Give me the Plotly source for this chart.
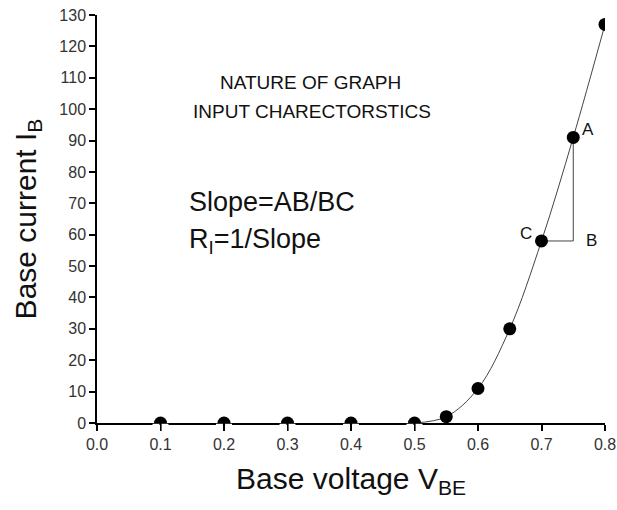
import plotly.graph_objects as go

# Data
vbe = [0.1, 0.2, 0.3, 0.4, 0.5, 0.55, 0.6, 0.65, 0.7, 0.75, 0.8]
ib = [0, 0, 0, 0, 0, 2, 11, 30, 58, 91, 127]
# fitted curve drawn through the conducting region
curve_v = [0.5, 0.55, 0.6, 0.65, 0.7, 0.75, 0.8]
curve_i = [0, 2, 11, 30, 58, 91, 127]
# slope triangle vertices: A, B, C
tri_v = [0.75, 0.75, 0.7]
tri_i = [91, 58, 58]
x_ticks = [0.0, 0.1, 0.2, 0.3, 0.4, 0.5, 0.6, 0.7, 0.8]
y_ticks = list(range(0, 131, 10))

FONT = "Liberation Sans, Arial, sans-serif"

fig = go.Figure()
fig.add_trace(go.Scatter(x=curve_v, y=curve_i, mode="lines",
                         line=dict(color="#444", width=1, shape="spline", smoothing=1.0),
                         hoverinfo="skip", showlegend=False, cliponaxis=True))
fig.add_trace(go.Scatter(x=tri_v, y=tri_i, mode="lines",
                         line=dict(color="#444", width=1),
                         hoverinfo="skip", showlegend=False, cliponaxis=True))
fig.add_trace(go.Scatter(x=vbe, y=ib, mode="markers",
                         marker=dict(color="black", size=13),
                         showlegend=False, cliponaxis=True))

# the reference clips markers at the x axis: mask the part of the
# zero-valued markers that falls below the axis line (ticks stay visible)
PLOT_H = 408.0
PX_X = 0.8 / 508.0
for v, i in zip(vbe, ib):
    if i == 0:
        for sgn in (-1, 1):
            xa = v + sgn * 1.1 * PX_X
            xb = v + sgn * 8.0 * PX_X
            fig.add_shape(type="rect", xref="x", yref="paper",
                          x0=min(xa, xb), x1=max(xa, xb),
                          y0=-8.0 / PLOT_H, y1=-0.8 / PLOT_H,
                          fillcolor="white", line=dict(width=0), layer="above")

ann = [
    dict(x=0.336, y=108.4, text="NATURE OF GRAPH", size=19, xanchor="center"),
    dict(x=0.339, y=99.4, text="INPUT CHARECTORSTICS", size=19, xanchor="center"),
    dict(x=0.142, y=70.5, text="Slope=AB/BC", size=27, xanchor="left"),
    dict(x=0.142, y=58.0, text="R<sub>I</sub>=1/Slope", size=27, xanchor="left"),
    dict(x=tri_v[0] + 0.023, y=tri_i[0] + 2.5, text="A", size=17, xanchor="center"),
    dict(x=tri_v[1] + 0.029, y=tri_i[1] + 0.3, text="B", size=17, xanchor="center"),
    dict(x=tri_v[2] - 0.024, y=tri_i[2] + 2.5, text="C", size=17, xanchor="center"),
]
for a in ann:
    fig.add_annotation(x=a["x"], y=a["y"], text=a["text"], xref="x", yref="y",
                       showarrow=False, xanchor=a["xanchor"], yanchor="middle",
                       font=dict(family=FONT, size=a["size"], color="#111"))

axis_common = dict(showline=True, linecolor="black", linewidth=1.5,
                   ticks="outside", ticklen=6, tickwidth=1.5, tickcolor="black",
                   showgrid=False, zeroline=False, mirror=False, automargin=False,
                   tickfont=dict(family=FONT, size=16, color="#333"))

fig.update_xaxes(range=[0, 0.8], tickvals=x_ticks,
                 ticktext=[f"{v:.1f}" for v in x_ticks],
                 title=dict(text="Base voltage V<sub>BE</sub>",
                            font=dict(family=FONT, size=30, color="#111"), standoff=16),
                 **axis_common)
fig.update_yaxes(range=[0, 130], tickvals=y_ticks,
                 title=dict(text="Base current I<sub>B</sub>",
                            font=dict(family=FONT, size=30, color="#111"), standoff=14),
                 **axis_common)

fig.update_layout(width=617, height=510, margin=dict(l=97, r=12, t=15, b=87),
                  plot_bgcolor="white", paper_bgcolor="white")

fig.write_html("out.html")
